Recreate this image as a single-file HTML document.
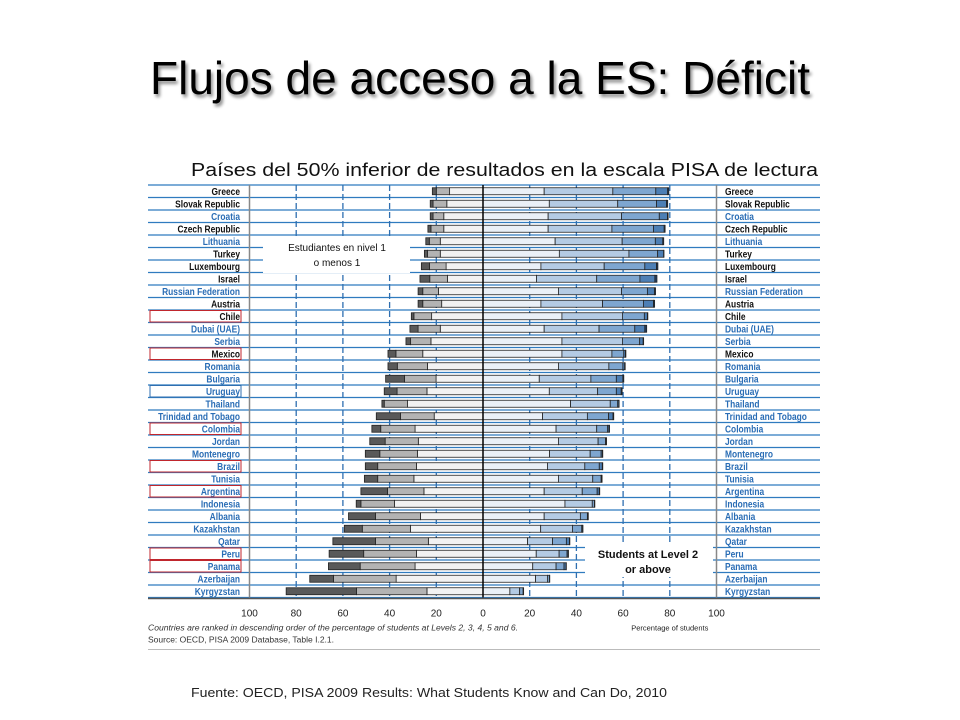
<!DOCTYPE html>
<html><head><meta charset="utf-8"><style>
html,body{margin:0;padding:0;background:#fff;}
svg{display:block;font-family:"Liberation Sans",sans-serif;}
</style></head><body>
<svg id="chart" width="960" height="720" viewBox="0 0 960 720" xmlns="http://www.w3.org/2000/svg">
<defs><filter id="sh" x="-5%" y="-5%" width="110%" height="130%"><feGaussianBlur in="SourceAlpha" stdDeviation="1.5"/><feOffset dx="2" dy="3"/><feComponentTransfer><feFuncA type="linear" slope="0.45"/></feComponentTransfer><feMerge><feMergeNode/><feMergeNode in="SourceGraphic"/></feMerge></filter></defs>
<text x="150" y="94" font-size="46" textLength="660" lengthAdjust="spacingAndGlyphs" fill="#000" filter="url(#sh)">Flujos de acceso a la ES: Déficit</text>
<text x="191" y="176" font-size="18" textLength="627" lengthAdjust="spacingAndGlyphs" fill="#111">Países del 50% inferior de resultados en la escala PISA de lectura</text>
<g id="plot"></g>
<text x="191" y="697" font-size="12.5" textLength="476" lengthAdjust="spacingAndGlyphs" fill="#222">Fuente: OECD, PISA 2009 Results: What Students Know and Can Do, 2010</text>
</svg>
<script>
const countries=["Greece","Slovak Republic","Croatia","Czech Republic","Lithuania","Turkey","Luxembourg","Israel","Russian Federation","Austria","Chile","Dubai (UAE)","Serbia","Mexico","Romania","Bulgaria","Uruguay","Thailand","Trinidad and Tobago","Colombia","Jordan","Montenegro","Brazil","Tunisia","Argentina","Indonesia","Albania","Kazakhstan","Qatar","Peru","Panama","Azerbaijan","Kyrgyzstan"];
const oecd=[1,1,0,1,0,1,1,1,0,1,1,0,0,1,0,0,0,0,0,0,0,0,0,0,0,0,0,0,0,0,0,0,0];
const highlighted=["Chile","Mexico","Colombia","Brazil","Argentina","Peru","Panama"];
const belowL1b=[1.7,1.2,1.2,1.3,1.5,1.3,3.5,4.2,2.0,2.0,1.1,3.5,2.0,3.4,4.0,8.1,5.5,1.0,10.4,3.8,6.6,6.2,5.3,5.7,11.4,2.0,11.6,7.7,18.3,14.8,13.6,10.2,30.1];
const level1b=[5.7,5.9,4.6,5.5,4.7,5.5,7.1,7.6,6.7,8.1,7.6,9.5,8.7,11.5,12.9,13.5,12.8,10.0,14.4,14.7,14.2,16.1,16.6,15.5,15.6,14.4,19.2,20.6,22.6,22.6,23.5,26.8,30.2];
const level1a=[14.3,15.5,16.8,16.8,18.3,18.3,15.8,15.2,19.1,17.7,22.0,18.3,22.3,25.8,23.8,20.1,24.0,32.3,20.9,29.1,27.7,28.1,28.5,29.6,25.3,37.9,26.8,31.1,23.4,28.5,29.1,37.2,24.0];
const level2=[26.2,28.4,27.9,27.9,30.9,32.7,24.8,22.9,32.3,24.8,33.8,26.2,33.8,33.8,32.3,24.1,28.4,37.5,25.5,31.3,32.3,28.5,27.6,32.3,26.2,35.1,26.2,24.7,19.1,22.8,21.3,22.5,11.5];
const level3=[29.4,29.3,31.4,27.3,28.7,29.8,27.1,25.8,27.0,26.4,25.9,23.5,25.9,21.4,21.6,22.1,20.7,17.0,19.2,17.4,17.0,17.4,16.0,14.7,16.3,11.7,15.5,13.6,10.7,9.8,10.0,5.2,4.2];
const level4=[18.4,16.6,16.2,17.8,14.2,12.3,17.4,18.5,11.1,17.5,9.4,15.3,7.4,5.1,6.0,10.9,8.0,3.2,9.1,4.7,3.2,4.7,6.2,3.6,6.4,0.9,3.0,4.0,5.9,3.4,3.4,0.8,1.5];
const level5=[5.1,4.3,3.5,4.6,3.2,2.6,5.0,6.4,3.0,4.3,1.3,4.3,1.5,0.7,0.8,2.8,2.1,0.5,1.9,0.6,0.3,0.6,1.3,0.3,0.9,0.2,0.3,0.4,1.3,0.5,0.9,0.1,0.2];
const level6=[0.5,0.5,0.3,0.4,0.4,0.1,0.6,0.9,0.5,0.5,0.2,0.8,0.2,0.2,0.2,0.4,0.4,0.1,0.3,0.2,0.1,0.1,0.2,0.1,0.2,0.0,0.1,0.1,0.2,0.1,0.1,0.0,0.0];
const xTicks=[100,80,60,40,20,0,20,40,60,80,100];

const NS="http://www.w3.org/2000/svg";
const plot=document.getElementById('plot');
const X0=483, SC=2.335, TOP=185, RH=12.5, L=148, R=820;
const xs=v=>X0+v*SC;
const rowY=i=>TOP+i*RH+RH/2;
function mk(tag,attrs,parent){const e=document.createElementNS(NS,tag);for(const k in attrs)e.setAttribute(k,attrs[k]);(parent||plot).appendChild(e);return e;}
const BOTTOM=TOP+countries.length*RH;
// horizontal row lines
for(let i=0;i<=countries.length;i++){
  const ln=mk('line',{x1:L,x2:R,y1:TOP+i*RH,y2:TOP+i*RH,stroke:'#2f7bbf','stroke-width':1.2});
  
  
}
// gray frame lines
[xs(-100),xs(100)].forEach(x=>{
  const ln=mk('line',{x1:x,x2:x,y1:TOP,y2:BOTTOM,stroke:'#888','stroke-width':1.5});
  
  
});
// dashed gridlines
[-80,-60,-40,-20,20,40,60,80].forEach(v=>{
  const ln=mk('line',{x1:xs(v),x2:xs(v),y1:TOP,y2:BOTTOM,stroke:'#2f6fb0','stroke-width':1.3,'stroke-dasharray':'6,3'});
  
  
});
// bars
const leftSegs=[[level1a,'#f2f2f2'],[level1b,'#b3b3b3'],[belowL1b,'#595959']];
const rightSegs=[[level2,'#eaf0f7'],[level3,'#b4cbe4'],[level4,'#7ea6d0'],[level5,'#4d7fb5'],[level6,'#1f3f66']];
countries.forEach((c,i)=>{
  const y=rowY(i)-3.5;
  let acc=0;
  leftSegs.forEach(([arr,col])=>{
    const a=acc, b=acc+arr[i];
    const r=mk('rect',{x:xs(-b),y:y,width:Math.max(0,(b-a)*SC),height:7,fill:col,stroke:'#222','stroke-width':0.8});
    
    
    acc=b;
  });
  acc=0;
  rightSegs.forEach(([arr,col])=>{
    const a=acc, b=acc+arr[i];
    const r=mk('rect',{x:xs(a),y:y,width:Math.max(0,(b-a)*SC),height:7,fill:col,stroke:'#222','stroke-width':0.8});
    
    
    acc=b;
  });
  const col=oecd[i]?'#111':'#2a6db5';
  const tl=mk('text',{transform:`translate(240,${rowY(i)+3.5}) scale(0.8,1)`,'text-anchor':'end','font-size':10.5,'font-weight':'bold',fill:col});
  tl.textContent=c;
  
  
  const tr=mk('text',{transform:`translate(725,${rowY(i)+3.5}) scale(0.8,1)`,'font-size':10.5,'font-weight':'bold',fill:col});
  tr.textContent=c;
  
  
  if(highlighted.includes(c)||c==='Uruguay'){
    const hb=mk('rect',{x:150,y:TOP+i*RH+0.5,width:91,height:RH-1,fill:'none',stroke:c==='Uruguay'?'#2f6fb0':'#c0262d','stroke-width':1});
    
    
  }
});
// zero axis
const z=mk('line',{x1:X0,x2:X0,y1:TOP,y2:BOTTOM,stroke:'#000','stroke-width':1.5});


// bottom axis
const ax=mk('line',{x1:L,x2:R,y1:BOTTOM+1,y2:BOTTOM+1,stroke:'#555','stroke-width':1.5});


xTicks.forEach((t,k)=>{
  const v=k<5?-t:t;
  const tx=mk('text',{x:xs(v),y:BOTTOM+19,'text-anchor':'middle','font-size':10,fill:'#222'});
  tx.textContent=t;
  
  
});
const at=mk('text',{x:xs(80),y:BOTTOM+33,'text-anchor':'middle','font-size':7.5,fill:'#222'});
at.textContent='Percentage of students';


const n1=mk('text',{x:148,y:BOTTOM+33,'font-size':8.5,'font-style':'italic',fill:'#333',textLength:370,lengthAdjust:'spacingAndGlyphs'});
n1.textContent='Countries are ranked in descending order of the percentage of students at Levels 2, 3, 4, 5 and 6.';


const n2=mk('text',{x:148,y:BOTTOM+45,'font-size':8.5,fill:'#333'});
n2.textContent='Source: OECD, PISA 2009 Database, Table I.2.1.';


const bl=mk('line',{x1:148,x2:820,y1:BOTTOM+52,y2:BOTTOM+52,stroke:'#bbb','stroke-width':1});


// annotation boxes
const b1=mk('rect',{x:263,y:236,width:147,height:37,fill:'#fff'});


[['Estudiantes en nivel 1',251],['o menos 1',266]].forEach(([t,y])=>{
  const e=mk('text',{x:337,y:y,'text-anchor':'middle','font-size':10,fill:'#111'});
  e.textContent=t;
  
  
});
const b2=mk('rect',{x:585,y:543,width:128,height:34,fill:'#fff'});


[['Students at Level 2',558],['or above',573]].forEach(([t,y])=>{
  const e=mk('text',{x:648,y:y,'text-anchor':'middle','font-size':11,'font-weight':'bold',fill:'#111'});
  e.textContent=t;
  
  
});
</script>
</body></html>
